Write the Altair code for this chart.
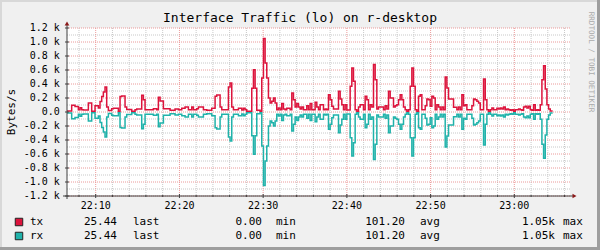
import altair as alt
import pandas as pd

# ---------------- data ----------------
start_minute = 6 + 32 / 60          # first sample 22:06:32 (minutes after 22:00)
step_seconds = 11.95

tx_bytes = [
    14, 14, 14, 95, 95, 80, 80, 33, 60, 33,
    28, 28, 28, 130, 130, 10, 10, 90, 90, 57,
    150, 220, 285, 357, 70, 20, 20, 48, 52, 52,
    52, 10, 220, 230, 230, 70, 35, 35, 35, 10,
    10, 33, 43, 43, 43, 240, 175, 33, 33, 33,
    33, 33, 48, 48, 33, 210, 157, 157, 48, 48,
    48, 48, 24, 24, 24, 43, 43, 33, 33, 52,
    52, 71, 71, 33, 33, 71, 33, 33, 48, 70,
    70, 70, 33, 33, 24, 24, 24, 52, 52, 225,
    243, 243, 70, 33, 33, 33, 33, 357, 415, 70,
    33, 33, 33, 52, 52, 28, 52, 33, 10, 10,
    10, 340, 605, 338, 25, 25, 10, 486, 1050, 700,
    486, 200, 129, 153, 200, 129, 33, 57, 33, 120,
    43, 33, 52, 52, 33, 270, 176, 70, 120, 70,
    43, 70, 33, 33, 90, 33, 120, 33, 33, 138,
    70, 33, 105, 105, 33, 43, 33, 248, 176, 81,
    43, 43, 43, 295, 186, 105, 33, 105, 30, 30,
    367, 630, 438, 33, 10, 71, 105, 105, 33, 224,
    176, 33, 105, 71, 677, 462, 43, 71, 71, 71,
    33, 90, 43, 295, 200, 200, 71, 90, 105, 176,
    248, 176, 71, 33, 10, 33, 367, 630, 367, 33,
    10, 224, 248, 33, 33, 90, 186, 176, 81, 224,
    200, 33, 105, 71, 33, 71, 33, 500, 343, 186,
    186, 186, 67, 67, 33, 71, 33, 248, 90, 105,
    33, 33, 33, 90, 186, 176, 153, 129, 33, 33,
    472, 176, 33, 10, 33, 57, 33, 33, 52, 43,
    57, 43, 71, 33, 43, 33, 24, 33, 10, 33,
    33, 43, 33, 24, 71, 81, 57, 81, 33, 24,
    105, 24, 33, 24, 105, 462, 662, 329, 105, 43,
    14, 25,
]
rx_bytes = list(tx_bytes)  # loopback interface: rx equals tx

x_tick_minutes = [10, 20, 30, 40, 50, 60]
x_tick_labels = ["22:10", "22:20", "22:30", "22:40", "22:50", "23:00"]
x_minor_minutes = [8, 12, 14, 16, 18, 22, 24, 26, 28, 32, 34, 36, 38, 42, 44, 46, 48,
                   52, 54, 56, 58, 62, 64, 66]
y_tick_values = [-1200, -1000, -800, -600, -400, -200, 0, 200, 400, 600, 800, 1000, 1200]
y_tick_labels = ["-1.2 k", "-1.0 k", "-0.8 k", "-0.6 k", "-0.4 k", "-0.2 k", "0.0",
                 "0.2 k", "0.4 k", "0.6 k", "0.8 k", "1.0 k", "1.2 k"]
y_minor_values = [-1100, -900, -700, -500, -300, -100, 100, 300, 500, 700, 900, 1100]

series_names = ["tx", "rx"]
series_colors = ["#DC143C", "#20B2AA"]
last_vals = ["25.44", "25.44"]
min_vals = ["0.00", "0.00"]
avg_vals = ["101.20", "101.20"]
max_vals = ["1.05k", "1.05k"]

title_text = "Interface Traffic (lo) on r-desktop"
y_title_text = "Bytes/s"
watermark_text = "RRDTOOL / TOBI OETIKER"

# ---------------- layout ----------------
OX, OY, W, H = 67, 28, 503, 168
X_DOMAIN = [6.572, 66.65]
FONT = "DejaVu Sans Mono"

df = pd.DataFrame({
    "minute": [start_minute + i * step_seconds / 60 for i in range(len(tx_bytes))],
    "tx": tx_bytes,
    "rx": [-v for v in rx_bytes],   # rx drawn below the axis
})

xs = alt.Scale(domain=X_DOMAIN, nice=False, zero=False)
ys = alt.Scale(domain=[-1200, 1200], nice=False)

one = pd.DataFrame({"a": [0]})
xt_df = pd.DataFrame({"m": x_tick_minutes, "label": x_tick_labels})
yt_df = pd.DataFrame({"v": y_tick_values, "label": y_tick_labels})


def vgrid(vals, color):
    return alt.Chart(pd.DataFrame({"m": vals})).mark_rule(
        color=color, strokeWidth=1, strokeDash=[1, 1]
    ).encode(x=alt.X("m:Q", scale=xs, axis=None))


def hgrid(vals, color):
    return alt.Chart(pd.DataFrame({"v": vals})).mark_rule(
        color=color, strokeWidth=1, strokeDash=[1, 1]
    ).encode(y=alt.Y("v:Q", scale=ys, axis=None))


minor_c = "#C8C8C8"
major_c = "#EC9A9A"

grid = [
    vgrid(x_minor_minutes, minor_c),
    hgrid(y_minor_values, minor_c),
    vgrid(x_tick_minutes, major_c),
    hgrid(y_tick_values, major_c),
]

tx_line = alt.Chart(df).mark_line(interpolate="step-after", clip=True, strokeWidth=1.5,
                                  color=series_colors[0]).encode(
    x=alt.X("minute:Q", scale=xs, axis=None),
    y=alt.Y("tx:Q", scale=ys, axis=None),
)
rx_line = alt.Chart(df).mark_line(interpolate="step-after", clip=True, strokeWidth=1.5,
                                  color=series_colors[1]).encode(
    x=alt.X("minute:Q", scale=xs, axis=None),
    y=alt.Y("rx:Q", scale=ys, axis=None),
)

axis_c = "#404040"
arrow_c = "#8B1A1A"

# tick marks and tick labels (positioned through the scales)
x_ticks = alt.Chart(xt_df).mark_rule(color=axis_c, strokeWidth=1).encode(
    x=alt.X("m:Q", scale=xs, axis=None), y=alt.value(H - 2), y2=alt.value(H + 2))
x_minor_ticks = alt.Chart(pd.DataFrame({"m": x_minor_minutes})).mark_rule(
    color=axis_c, strokeWidth=1).encode(
    x=alt.X("m:Q", scale=xs, axis=None), y=alt.value(H - 1), y2=alt.value(H + 1))
x_labels = alt.Chart(xt_df).mark_text(font=FONT, fontSize=10, baseline="middle",
                                      align="center", color="#000000").encode(
    x=alt.X("m:Q", scale=xs, axis=None), y=alt.value(206 - OY), text="label:N")
y_ticks = alt.Chart(yt_df).mark_rule(color=axis_c, strokeWidth=1).encode(
    y=alt.Y("v:Q", scale=ys, axis=None), x=alt.value(-2), x2=alt.value(2))
y_labels = alt.Chart(yt_df).mark_text(font=FONT, fontSize=10, baseline="middle",
                                      align="right", color="#000000").encode(
    y=alt.Y("v:Q", scale=ys, axis=None), x=alt.value(59.8 - OX), text="label:N")


def hrule(x1, x2, y, color, w):
    return alt.Chart(one).mark_rule(color=color, strokeWidth=w).encode(
        x=alt.value(x1), x2=alt.value(x2), y=alt.value(y))


def vrule(x, y1, y2, color, w):
    return alt.Chart(one).mark_rule(color=color, strokeWidth=w).encode(
        x=alt.value(x), y=alt.value(y1), y2=alt.value(y2))


frame = [
    hrule(-4, 508, H, axis_c, 1),
    vrule(0, H + 3, -4, axis_c, 1),
    alt.Chart(one).mark_point(shape="triangle-right", filled=True, size=22, color=arrow_c,
                              opacity=1).encode(x=alt.value(507.5), y=alt.value(H)),
    alt.Chart(one).mark_point(shape="triangle-up", filled=True, size=22, color=arrow_c,
                              opacity=1).encode(x=alt.value(0), y=alt.value(-4.5)),
    x_ticks, x_minor_ticks, x_labels, y_ticks, y_labels,
    # outer shaded border
    hrule(-OX, 600 - OX, -OY + 1, "#D8D8D8", 2),
    vrule(-OX + 1, -OY, 250 - OY, "#D8D8D8", 2),
    hrule(-OX, 600 - OX, 250 - OY - 1.5, "#9E9E9E", 3),
    vrule(600 - OX - 1.5, -OY, 250 - OY, "#9E9E9E", 3),
]


def txt(text, x, y, size=11, align="left", angle=0, color="#000000"):
    kw = dict(font=FONT, fontSize=size, align=align, baseline="middle", color=color)
    if angle:
        kw["angle"] = angle
    return alt.Chart(one).mark_text(**kw).encode(
        x=alt.value(x - OX), y=alt.value(y - OY), text=alt.value(text))


texts = [
    txt(title_text, 300, 18, size=13, align="center"),
    txt(y_title_text, 12, 112, size=11, align="center", angle=270),
    txt(watermark_text, 591, 62, size=7.6, align="center", angle=90, color="#ABABAB"),
]

row_y = [222, 236]
for i in range(2):
    y = row_y[i]
    texts.append(
        alt.Chart(one).mark_square(size=56, color=series_colors[i], opacity=1,
                                   stroke="#222222", strokeWidth=1).encode(
            x=alt.value(19 - OX), y=alt.value(y - OY))
    )
    texts += [
        txt(series_names[i], 30, y),
        txt(last_vals[i], 117, y, align="right"),
        txt("last", 133, y),
        txt(min_vals[i], 262, y, align="right"),
        txt("min", 276, y),
        txt(avg_vals[i], 405, y, align="right"),
        txt("avg", 420, y),
        txt(max_vals[i], 555, y, align="right"),
        txt("max", 563, y),
    ]

chart = alt.layer(*grid, tx_line, rx_line, *frame, *texts).properties(
    width=W, height=H,
    autosize=alt.AutoSizeParams(type="none"),
    padding={"left": OX, "top": OY, "right": 600 - OX - W, "bottom": 250 - OY - H},
    background="#F0F0F0",
).configure_view(fill="#FFFFFF", stroke=None)

chart.save("out.html", embed_options={"renderer": "svg", "actions": False})
